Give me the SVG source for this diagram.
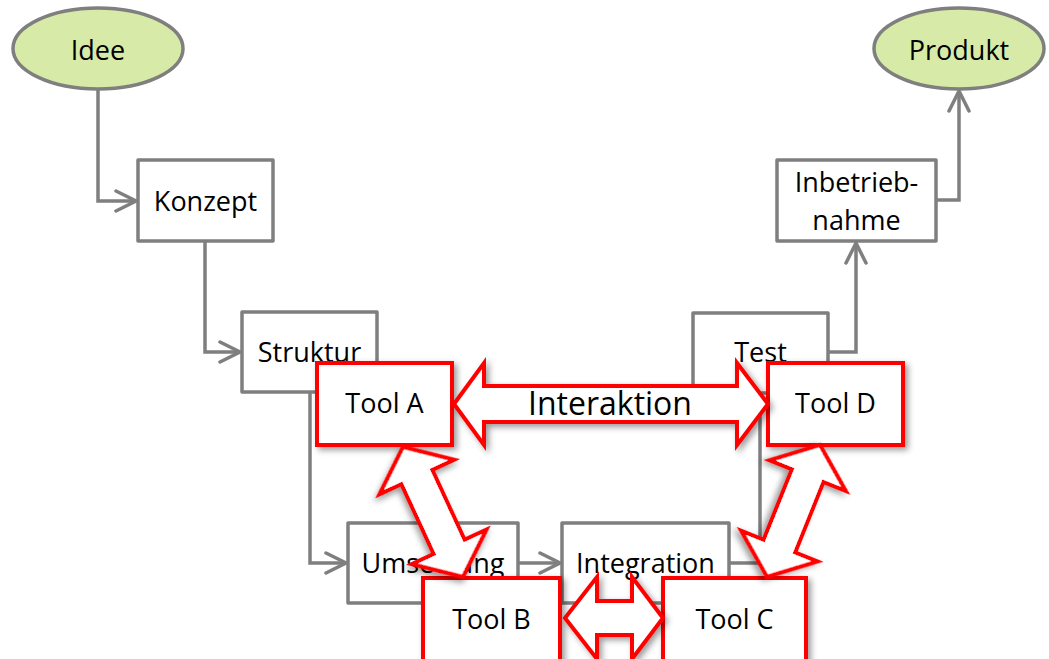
<svg xmlns="http://www.w3.org/2000/svg" width="1049" height="659" viewBox="0 0 1049 659">
<defs>
<style>
.t{font-family:"Open Sans","Liberation Sans",sans-serif;font-size:27px;fill:#000;text-anchor:middle}
.big{font-size:32px}
.g{fill:#fff;stroke:#7f7f7f;stroke-width:3.5;stroke-linejoin:round}
.e{fill:#d7eaa7;stroke:#7f7f7f;stroke-width:3.5}
.tool{fill:#fff;stroke:#ff0000;stroke-width:4;filter:url(#sh)}
.ar{fill:#fff;stroke:#ff0000;stroke-width:4;stroke-linejoin:miter;filter:url(#sh)}
.c{fill:none;stroke:#7f7f7f;stroke-width:3.5;marker-end:url(#ah)}
</style>
<marker id="ah" markerUnits="userSpaceOnUse" viewBox="-24 -13 27 26" markerWidth="27" markerHeight="26" refX="0" refY="0" orient="auto">
<path d="M-20,-10 L0,0 L-20,10" fill="none" stroke="#7f7f7f" stroke-width="3.5" stroke-linecap="round" stroke-linejoin="miter"/>
</marker>
<filter id="sh" x="-20%" y="-20%" width="150%" height="150%">
<feDropShadow dx="3" dy="3" stdDeviation="3" flood-color="#000" flood-opacity="0.4"/>
</filter>
</defs>
<g id="connectors">
<path class="c" d="M98,89 V201 H136"/>
<path class="c" d="M205,241 V352 H240"/>
<path class="c" d="M310,392 V563 H346"/>
<path class="c" d="M518,563 H560"/>
<path class="c" d="M729,563 H760 V395"/>
<path class="c" d="M828,352 H856 V243"/>
<path class="c" d="M936,200 H959 V91"/>
</g>
<g id="idee"><ellipse class="e" cx="98" cy="48.5" rx="85" ry="40.5"/><text class="t" x="98" y="60">Idee</text></g>
<g id="produkt"><ellipse class="e" cx="959" cy="48.5" rx="85" ry="40.5"/><text class="t" x="959" y="60">Produkt</text></g>
<g id="konzept"><rect class="g" x="138" y="160" width="135" height="81"/><text class="t" x="205.5" y="211">Konzept</text></g>
<g id="struktur"><rect class="g" x="242" y="312" width="135" height="80"/><text class="t" x="309.5" y="362">Struktur</text></g>
<g id="umsetzung"><rect class="g" x="348" y="523" width="170" height="80"/><text class="t" x="433" y="573">Umsetzung</text></g>
<g id="integration"><rect class="g" x="562" y="523" width="167" height="80"/><text class="t" x="645.5" y="573">Integration</text></g>
<g id="test"><rect class="g" x="693" y="313" width="135" height="80"/><text class="t" x="760.5" y="362">Test</text></g>
<g id="inbetriebnahme"><rect class="g" x="777" y="160" width="159" height="81"/><text class="t" x="856.5" y="192">Inbetrieb-</text><text class="t" x="856.5" y="230">nahme</text></g>
<g id="toolA"><rect class="tool" x="317" y="363" width="135" height="82"/><text class="t" x="384.5" y="413">Tool A</text></g>
<g id="toolD"><rect class="tool" x="768" y="363" width="135" height="82"/><text class="t" x="835.5" y="413">Tool D</text></g>
<g id="toolB"><rect class="tool" x="423" y="578" width="137" height="84"/><text class="t" x="491.5" y="629">Tool B</text></g>
<g id="toolC"><rect class="tool" x="663" y="578" width="143" height="84"/><text class="t" x="734.5" y="629">Tool C</text></g>
<g id="interaktion">
<polygon class="ar" points="454,404 484,363 484,386 737,386 737,363 768,404 737,445 737,422 484,422 484,445"/>
<text class="t big" x="610" y="415">Interaktion</text>
</g>
<g id="arrowAB">
<polygon class="ar" transform="translate(403,447) rotate(65.2)" points="0,0 33,-41 33,-17 110,-17 110,-41 143,0 110,41 110,17 33,17 33,41"/>
</g>
<g id="arrowDC">
<polygon class="ar" transform="translate(820,445) rotate(111.9)" points="0,0 33,-41 33,-17 109,-17 109,-41 142,0 109,41 109,17 33,17 33,41"/>
</g>
<g id="arrowBC">
<polygon class="ar" points="565,618 597,577 597,601 632,601 632,577 663,618 632,659 632,635 597,635 597,659"/>
</g>
</svg>
